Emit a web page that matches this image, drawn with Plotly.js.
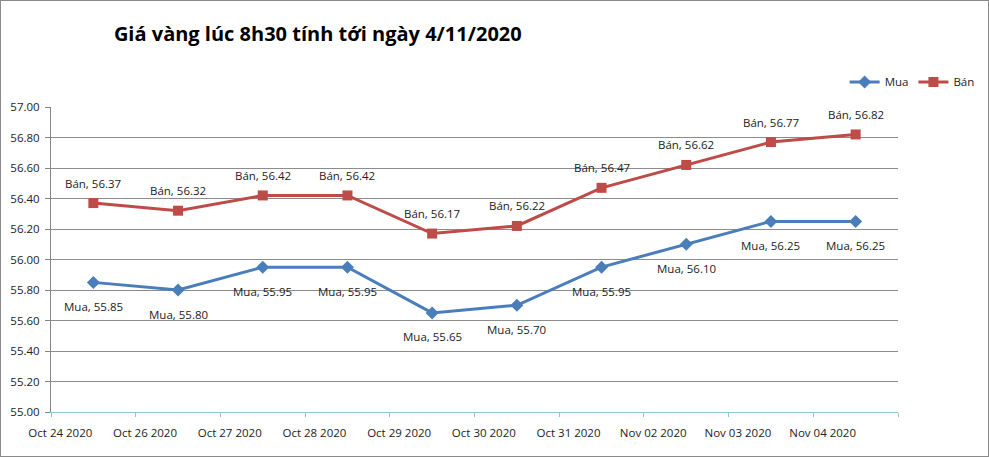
<!DOCTYPE html>
<html>
<head>
<meta charset="utf-8">
<script src="https://cdn.plot.ly/plotly-3.0.1.min.js"></script>
<style>
html,body{margin:0;padding:0;background:#fff;}
#chart{width:989px;height:457px;box-sizing:border-box;border:1px solid #8a8a8a;}
</style>
</head>
<body>
<div id="chart"></div>
<script>
const categories = ["Oct 24 2020","Oct 26 2020","Oct 27 2020","Oct 28 2020","Oct 29 2020","Oct 30 2020","Oct 31 2020","Nov 02 2020","Nov 03 2020","Nov 04 2020"];
const mua = [55.85, 55.80, 55.95, 55.95, 55.65, 55.70, 55.95, 56.10, 56.25, 56.25];
const ban = [56.37, 56.32, 56.42, 56.42, 56.17, 56.22, 56.47, 56.62, 56.77, 56.82];
const yTicks = [55.00,55.20,55.40,55.60,55.80,56.00,56.20,56.40,56.60,56.80,57.00];

const idx = categories.map((c,i)=>i);
const FONT = "Open Sans, Liberation Sans, sans-serif";
const BLUE = "#4A7EBB", RED = "#BE4B48";

const traces = [
  {
    x: idx, y: mua, name: "Mua", type: "scatter", mode: "lines+markers",
    line: {color: BLUE, width: 3},
    marker: {symbol: "diamond", size: 10, color: BLUE},
    cliponaxis: false
  },
  {
    x: idx, y: ban, name: "Bán", type: "scatter", mode: "lines+markers",
    line: {color: RED, width: 3},
    marker: {symbol: "square", size: 10, color: RED},
    cliponaxis: false
  }
];

const annotations = [];
idx.forEach(i => {
  annotations.push({x: i, y: mua[i], xref: "x", yref: "y", text: "Mua, " + mua[i].toFixed(2),
    showarrow: false, yshift: -24, xanchor: "center", yanchor: "middle",
    font: {family: FONT, size: 11.5, color: "#222"}});
  annotations.push({x: i, y: ban[i], xref: "x", yref: "y", text: "Bán, " + ban[i].toFixed(2),
    showarrow: false, yshift: 20, xanchor: "center", yanchor: "middle",
    font: {family: FONT, size: 11.5, color: "#222"}});
});

const layout = {
  width: 987, height: 455,
  margin: {l: 50, r: 90, t: 106, b: 44, autoexpand: false},
  paper_bgcolor: "#fff", plot_bgcolor: "#fff",
  font: {family: FONT, size: 11.5, color: "#222"},
  title: {
    text: "Giá vàng lúc 8h30 tính tới ngày 4/11/2020",
    font: {family: FONT, size: 20, color: "#000", weight: "bold"},
    x: 0.321, xref: "container", xanchor: "center",
    y: 0.927, yref: "container", yanchor: "middle"
  },
  showlegend: true,
  legend: {
    orientation: "h", x: 0.937, xanchor: "left", y: 1.082, yanchor: "middle",
    font: {family: FONT, size: 11.5, color: "#222"},
    itemwidth: 30, tracegroupgap: 0, bgcolor: "rgba(0,0,0,0)"
  },
  annotations: annotations,
  xaxis: {
    range: [-0.5, 9.5],
    tickvals: idx.map(i => i - 0.39),
    ticktext: categories,
    ticks: "", showgrid: false, zeroline: false,
    showline: true, linecolor: "#8CCBD6", linewidth: 1,
    ticklabelstandoff: 10,
    tickfont: {family: FONT, size: 11.5, color: "#222"},
    minor: {tickvals: idx.concat([10]).map(i => i - 0.5), ticks: "outside", ticklen: 4, tickcolor: "#8CCBD6", showgrid: false}
  },
  yaxis: {
    range: [55.0, 57.0],
    tickvals: yTicks,
    ticktext: yTicks.map(v => v.toFixed(2)),
    ticks: "outside", ticklen: 5, tickcolor: "#868686",
    ticklabelstandoff: 3,
    showgrid: true, gridcolor: "#8C8C8C", gridwidth: 1,
    zeroline: false, showline: true, linecolor: "#868686", linewidth: 1,
    tickfont: {family: FONT, size: 11.5, color: "#222"}
  }
};

Plotly.newPlot("chart", traces, layout, {displayModeBar: false, staticPlot: true});
</script>
</body>
</html>
